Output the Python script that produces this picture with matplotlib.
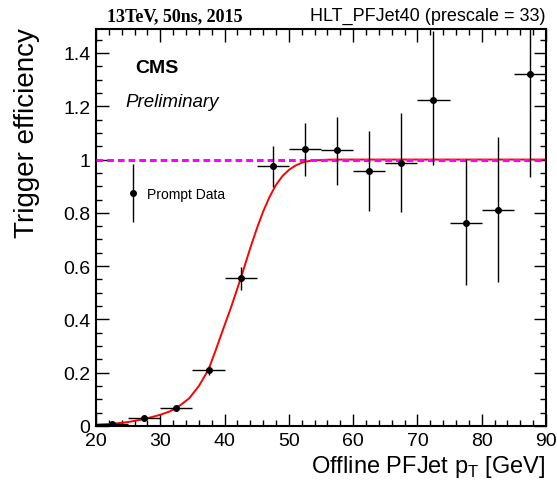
import matplotlib
matplotlib.use("Agg")
import matplotlib.pyplot as plt
from matplotlib.ticker import MultipleLocator
from matplotlib.legend_handler import HandlerErrorbar

plt.rcParams['font.family'] = ['Liberation Sans', 'DejaVu Sans']

# Bin centres (5 GeV bins) and measured efficiency
pt_centers = [22.5, 27.5, 32.5, 37.5, 42.5, 47.5, 52.5, 57.5, 62.5, 67.5, 72.5, 77.5, 82.5, 87.5]
pt_halfwidth = [2.5] * 14
eff = [0.006, 0.030, 0.066, 0.210, 0.555, 0.974, 1.038, 1.034, 0.957, 0.988, 1.222, 0.761, 0.812, 1.321]
err_up = [0.004, 0.008, 0.010, 0.015, 0.043, 0.078, 0.100, 0.126, 0.152, 0.188, 0.260, 0.240, 0.272, 0.300]
err_dn = [0.004, 0.008, 0.010, 0.020, 0.045, 0.078, 0.101, 0.128, 0.149, 0.185, 0.243, 0.231, 0.272, 0.386]

# Fit curve
fit_pt = [20, 22.5, 25, 27.5, 30, 31.5, 33, 34.5, 36, 37.5, 38.6, 39.8, 41, 42.5, 44, 45, 46, 47, 48,
          49, 50, 51, 52, 53, 54, 55.5, 57, 90]
fit_eff = [0.004, 0.008, 0.015, 0.026, 0.042, 0.055, 0.076, 0.104, 0.150, 0.212, 0.283, 0.365, 0.445,
           0.553, 0.668, 0.740, 0.805, 0.860, 0.905, 0.938, 0.961, 0.977, 0.988, 0.994, 0.997, 0.999, 1.0, 1.0]

plateau = 1.0

fig = plt.figure(figsize=(5.57, 4.85), dpi=100)
ax = fig.add_axes([96 / 557, 1 - 427 / 485, 450 / 557, 397 / 485])

ax.plot(fit_pt, fit_eff, color='red', lw=1.4, zorder=2, solid_joinstyle='round')
ax.axhline(plateau, color='#ff00ff', lw=2.2, dashes=(2.2, 1.3), zorder=3)

eb = ax.errorbar(pt_centers, eff, xerr=pt_halfwidth, yerr=[err_dn, err_up], fmt='o', color='black',
                 ms=4, lw=1.0, capsize=0, zorder=4, label='Prompt Data')

ax.set_xlim(20, 90)
ax.set_ylim(0, 1.49)
ax.xaxis.set_major_locator(MultipleLocator(10))
ax.xaxis.set_minor_locator(MultipleLocator(2))
ax.yaxis.set_minor_locator(MultipleLocator(0.05))
ax.set_yticks([0, 0.2, 0.4, 0.6, 0.8, 1.0, 1.2, 1.4])
ax.set_yticklabels(['0', '0.2', '0.4', '0.6', '0.8', '1', '1.2', '1.4'])
ax.tick_params(which='both', direction='in', top=True, right=True, labelsize=14, width=1.0)
ax.tick_params(which='major', length=9, pad=4)
ax.tick_params(which='minor', length=4.5)
for sp in ax.spines.values():
    sp.set_linewidth(1.5)

ax.legend(handler_map={type(eb): HandlerErrorbar(xerr_size=0.0, yerr_size=2.1, numpoints=1)},
          loc='center left', bbox_to_anchor=(0.066, 0.584), frameon=False, fontsize=10,
          handlelength=1.0, handletextpad=0.55, borderpad=0, borderaxespad=0)

fig.text(135.7 / 557, 1 - 73 / 485, 'CMS', fontsize=14, fontweight='bold', va='baseline')
fig.text(125 / 557, 1 - 107 / 485, 'Preliminary', fontsize=13.5, style='italic', va='baseline')

fig.text(107 / 557, 1 - 21 / 485, '13TeV, 50ns, 2015', fontsize=13, fontweight='bold',
         family=['Liberation Serif', 'DejaVu Serif'], va='baseline')
fig.text(546 / 557, 1 - 21 / 485, 'HLT_PFJet40 (prescale = 33)', fontsize=13, ha='right', va='baseline')

fig.text(27 / 557, 1 - 28 / 485, 'Trigger efficiency', fontsize=20, rotation=90, ha='center', va='top')
fig.text(546 / 557, 1 - 473 / 485, r'Offline PFJet p$_\mathregular{T}$ [GeV]', fontsize=17,
         ha='right', va='baseline')

fig.savefig('out.png', dpi=100)
